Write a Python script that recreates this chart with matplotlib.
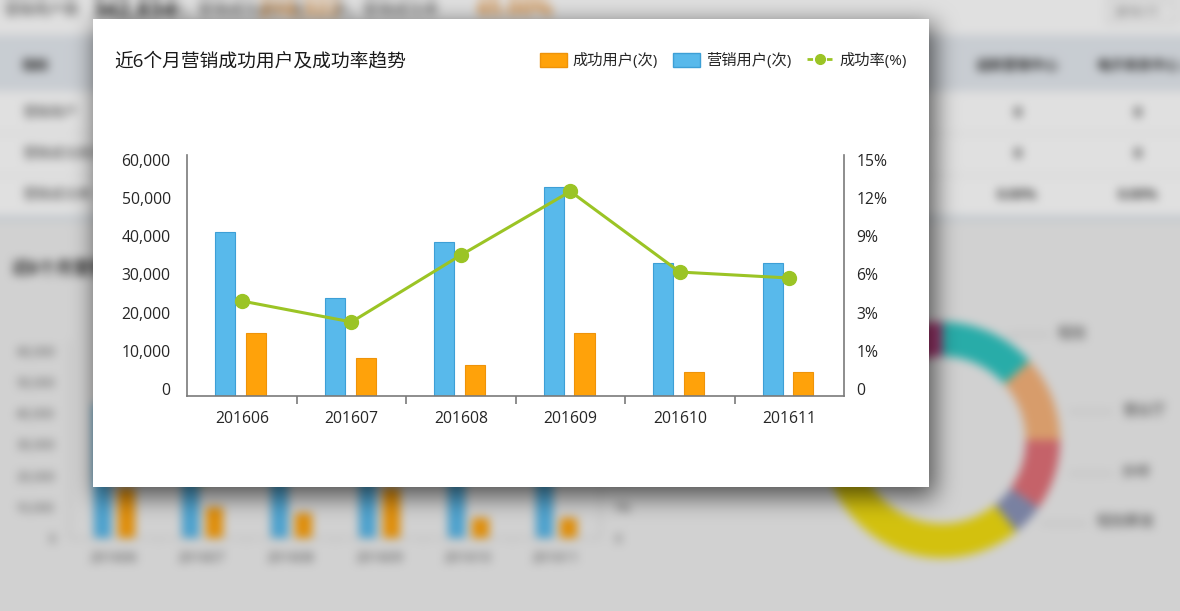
import numpy as np
import matplotlib
matplotlib.use("Agg")
import matplotlib.pyplot as plt
from matplotlib.patches import Patch, Rectangle
from matplotlib.lines import Line2D
from matplotlib.transforms import ScaledTranslation

plt.rcParams['font.family'] = ['Open Sans', 'Noto Sans CJK SC', 'DejaVu Sans']

# ---- data ----
months = ['201606', '201607', '201608', '201609', '201610', '201611']
marketing_users = [42900, 25700, 40300, 54700, 34800, 34800]   # 营销用户(次)
success_users = [16500, 9900, 8100, 16500, 6300, 6300]         # 成功用户(次)
success_rate = [6.22, 4.85, 9.23, 13.4, 8.12, 7.73]            # in right-axis units
count_ticks = [0, 10000, 20000, 30000, 40000, 50000, 60000]
rate_ticks = [0, 2.5, 5, 7.5, 10, 12.5, 15]
rate_labels = ['0', '1%', '3%', '6%', '9%', '12%', '15%']

# blurred page behind the dialog
channel_shares = [48, 42, 35, 16, 129, 30, 30, 30]
channel_colors = ['#2ec4c0', '#f5b27a', '#e07078', '#8a93b8', '#f0dc10',
                  '#7cc47a', '#9a7cc4', '#b8407f']
channel_names = ['短信', '营业厅', '外呼', '短信群发']
table_rows = ['营销用户', '营销成功用户', '营销成功率']
table_cols = ['迎宾营销中心', '电子商务中心']
table_vals = [['0', '0'], ['0', '0'], ['0.00%', '0.00%']]

TITLE = '近6个月营销成功用户及成功率趋势'
BLUE, BLUE_EDGE = '#58b9eb', '#3d9fd6'
ORANGE, ORANGE_EDGE = '#ffa20a', '#ee930a'
GREEN = '#9bc425'
AXIS = '#7a7a7a'
TEXT = '#262626'

W, H, DPI = 1180, 611, 100


def box_blur(a, r, passes=3):
    for _ in range(passes):
        for axis in (0, 1):
            pad = [(0, 0)] * a.ndim
            pad[axis] = (r + 1, r)
            c = np.cumsum(np.pad(a, pad, mode='edge'), axis=axis)
            n = a.shape[axis]
            hi = np.take(c, np.arange(2 * r + 1, 2 * r + 1 + n), axis=axis)
            lo = np.take(c, np.arange(0, n), axis=axis)
            a = (hi - lo) / (2 * r + 1)
    return a


def draw_combo(ax, bar_w, offs, line_kw):
    x = np.arange(len(months))
    ax.bar(x + offs[0], marketing_users, bar_w, color=BLUE, edgecolor=BLUE_EDGE, linewidth=0.8)
    ax.bar(x + offs[1], success_users, bar_w, color=ORANGE, edgecolor=ORANGE_EDGE, linewidth=0.8)
    ax.set_xlim(-0.5, len(months) - 0.5)
    ax.set_ylim(0, 60000 * 241 / 229)
    ax.set_xticks(x, months)
    ax.set_xticks(np.arange(0.5, len(months) - 1), minor=True)
    ax.set_yticks(count_ticks, [f'{v:,}' for v in count_ticks])
    ax2 = ax.twinx()
    ax2.plot(x, success_rate, color=GREEN, **line_kw)
    ax2.set_ylim(0, 15 * 241 / 229)
    ax2.set_yticks(rate_ticks, rate_labels)
    ax.patch.set_facecolor('none')
    for s in ('top', 'right'):
        ax.spines[s].set_visible(False)
    for s in ('top', 'left', 'bottom'):
        ax2.spines[s].set_visible(False)
    return ax2


# ---- background page (rendered, then blurred) ----
bg = plt.figure(figsize=(W / DPI, H / DPI), dpi=DPI)
bg.patch.set_facecolor('#eeeeee')
px = bg.add_axes([0, 0, 1, 1])
px.set_xlim(0, W)
px.set_ylim(H, 0)
px.axis('off')
px.add_patch(Rectangle((0, 0), W, 218, color='#ffffff'))
px.add_patch(Rectangle((0, 35), W, 55, color='#e4e9ef'))
px.plot([0, W], [133, 133], color='#ebebeb', lw=1)
px.plot([0, W], [175, 175], color='#ebebeb', lw=1)
px.plot([0, W], [218, 218], color='#dce3ea', lw=4)

for txt, xx, col, sz, wt in [('营销用户数', 3, '#555555', 11, 'normal'),
                             ('342,834', 92, '#333333', 16, 'bold'),
                             ('次，营销成功用户数', 167, '#555555', 11, 'normal'),
                             ('210,322', 258, '#f0a04b', 16, 'bold'),
                             ('次，营销成功率', 332, '#555555', 11, 'normal'),
                             ('65.00%', 476, '#f0a04b', 16, 'bold')]:
    px.text(xx, 11, txt, color=col, fontsize=sz, fontweight=wt, va='center')
px.add_patch(Rectangle((1106, 1), 70, 22, fc='#fafafa', ec='#dddddd'))
px.text(1114, 12, '2016-11', fontsize=8.5, color='#555555', va='center')

px.text(22, 66, '指标', fontsize=10, color='#333333', va='center', fontweight='bold')
for j, col in enumerate(table_cols):
    px.text(1017 + 121 * j, 66, col, fontsize=10, color='#333333', va='center',
            ha='center', fontweight='bold')
for i, row in enumerate(table_rows):
    yy = 113 + 41 * i
    px.text(22, yy, row, fontsize=10, color='#555555', va='center')
    for j, v in enumerate(table_vals[i]):
        px.text(1017 + 121 * j, yy, v, fontsize=10, color='#444444', va='center',
                ha='center', fontweight='bold')

px.text(12, 268, TITLE, fontsize=12.5, color='#333333', va='center', fontweight='bold')

bx = bg.add_axes([69 / W, (H - 538) / H, 531 / W, 197 / H])
bx2 = draw_combo(bx, 0.18, (-0.13, 0.14), dict(lw=2, marker='o', ms=7))
for a in (bx, bx2):
    for s in a.spines.values():
        s.set_color('#c8c8c8')
    a.tick_params(labelsize=9, labelcolor='#555555', length=0, pad=10)
bx.tick_params(axis='x', which='minor', length=4, color='#c8c8c8')
bx.tick_params(axis='x', labelsize=10, pad=9)

pa = bg.add_axes([824 / W, (H - 558) / H, 236 / W, 236 / H])
pa.pie(channel_shares, colors=channel_colors, startangle=90, counterclock=False,
       radius=1, wedgeprops=dict(width=0.29, linewidth=0))
pa.set_xlim(-1, 1)
pa.set_ylim(-1, 1)
for name, (x0, x1, yy, tx) in zip(channel_names, [(1007, 1049, 334, 1057),
                                                  (1069, 1112, 411, 1122),
                                                  (1069, 1112, 473, 1121),
                                                  (1041, 1086, 523, 1096)]):
    px.plot([x0, x1], [yy, yy], color='#c4c4c4', lw=1)
    px.text(tx, yy, name, fontsize=10.5, color='#444444', va='center')

bg.canvas.draw()
page = np.asarray(bg.canvas.buffer_rgba())[:, :, :3].astype(float) / 255
plt.close(bg)

page = box_blur(page, 4) * 0.88
shadow = np.zeros((H, W))
shadow[24:497, 95:935] = 1
shadow = box_blur(shadow, 11)
page = page * (1 - 0.6 * shadow[:, :, None])
page[19:487, 93:929] = 1.0
page = np.clip(page, 0, 1)

# ---- dialog with the chart ----
fig = plt.figure(figsize=(W / DPI, H / DPI), dpi=DPI)
fig.figimage(page, 0, 0, origin='upper', zorder=-10)

ax = fig.add_axes([187.3 / W, (H - 396) / H, 656.7 / W, 241 / H])
ax2 = draw_combo(ax, 0.183, (-0.152, 0.129),
                 dict(lw=2.2, marker='o', ms=10, solid_joinstyle='round'))
for a in (ax, ax2):
    for s in a.spines.values():
        s.set_color(AXIS)
        s.set_linewidth(1.2)
    a.tick_params(labelsize=11.3, labelcolor=TEXT, length=0)
ax.tick_params(axis='y', pad=12)
ax2.tick_params(axis='y', pad=9)
ax.tick_params(axis='x', pad=10.5)
ax.tick_params(axis='x', which='minor', length=6, width=1.2, color=AXIS)

up = ScaledTranslation(0, 7 / DPI, fig.dpi_scale_trans)
for lbl in ax.get_yticklabels() + ax2.get_yticklabels():
    lbl.set_transform(lbl.get_transform() + up)

fig.text(114 / W, 1 - 61 / H, TITLE, fontsize=13.5, color='#1a1a1a', va='center')

handles = [Patch(facecolor=ORANGE, edgecolor=ORANGE_EDGE),
           Patch(facecolor=BLUE, edgecolor=BLUE_EDGE),
           Line2D([0], [0], color=GREEN, lw=2, ls=(0, (2, 1.5)), marker='o', ms=7)]
fig.legend(handles, ['成功用户(次)', '营销用户(次)', '成功率(%)'],
           loc='center right', bbox_to_anchor=(907 / W, 1 - 61 / H), ncol=3,
           frameon=False, fontsize=11, labelcolor=TEXT, handlelength=1.75,
           handleheight=1.05, handletextpad=0.4, columnspacing=1.0,
           borderaxespad=0, borderpad=0)

fig.savefig('out.png', dpi=DPI)
